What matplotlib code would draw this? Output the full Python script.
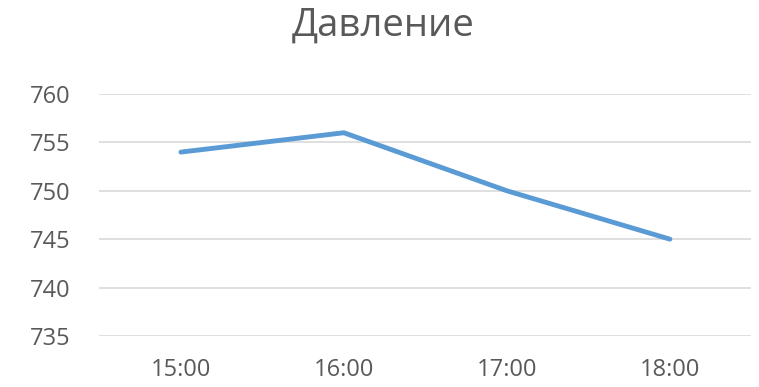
import matplotlib
matplotlib.use("Agg")
import matplotlib.pyplot as plt

# data
times = ["15:00", "16:00", "17:00", "18:00"]
pressure = [754, 756, 750, 745]
y_ticks = [735, 740, 745, 750, 755, 760]

TEXT = "#595959"
GRID = "#D9D9D9"
LINE = "#5B9BD5"

plt.rcParams.update({
    "font.family": ["Open Sans", "DejaVu Sans"],
    "font.size": 13,
})

fig = plt.figure(figsize=(7.59, 3.87), dpi=100)
ax = fig.add_axes([0.131, 0.132, 0.859, 0.625])

x = list(range(len(times)))
ax.plot(x, pressure, color=LINE, linewidth=3.5, solid_capstyle="round", zorder=3)

ax.set_xlim(-0.5, len(times) - 0.5)
ax.set_ylim(min(y_ticks), max(y_ticks))
ax.set_xticks(x)
ax.set_xticklabels(times)
ax.set_yticks(y_ticks)
ax.grid(axis="y", color=GRID, linewidth=1.2)
ax.set_axisbelow(True)
for s in ax.spines.values():
    s.set_visible(False)
ax.tick_params(length=0, colors=TEXT, labelsize=17)
ax.tick_params(axis="y", pad=50)
ax.tick_params(axis="x", pad=16)
for lbl in ax.get_yticklabels():
    lbl.set_horizontalalignment("left")

fig.text(0.505, 0.907, "Давление", ha="center", va="baseline", fontsize=27.5, color=TEXT)

fig.savefig("out.png", dpi=100)
